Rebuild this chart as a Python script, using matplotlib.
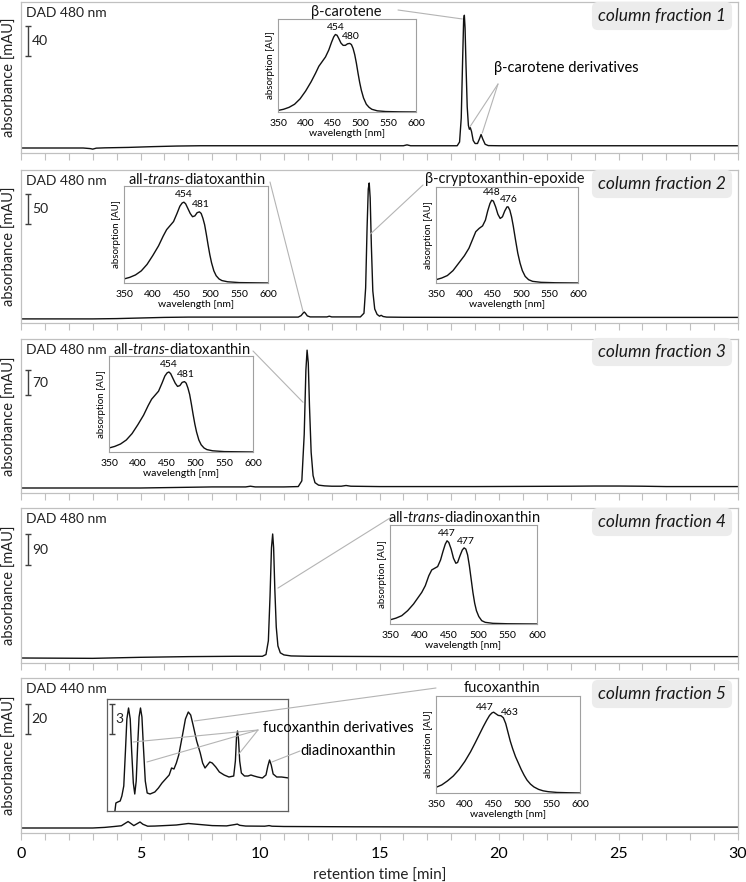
import numpy as np
import matplotlib.pyplot as plt
from matplotlib.ticker import MultipleLocator

plt.rcParams['font.family'] = ['Lato', 'DejaVu Sans']
plt.rcParams['mathtext.fontset'] = 'custom'
plt.rcParams['mathtext.rm'] = 'Lato'
plt.rcParams['mathtext.it'] = 'Lato:italic'

# ---- chromatograms: retention time [min] vs absorbance [mAU] (baseline = 0)
t1 = [0, 2.6, 2.9, 3.0, 3.15, 3.5, 4.5, 5.5, 6.5, 7.5, 10, 14, 16.0, 16.15, 16.3,
      18.25, 18.35, 18.42, 18.48, 18.52, 18.55, 18.58, 18.62, 18.67, 18.72, 18.76,
      18.80, 18.85, 18.92, 19.0, 19.1, 19.18, 19.25, 19.32, 19.42, 19.55, 20, 25, 30]
a1 = [0, 0, -0.8, -1.5, -0.2, 0.2, 0.8, 1.8, 2.6, 3.0, 3.0, 3.0, 3.0, 4.2, 3.0,
      3.0, 8, 40, 120, 170, 177, 160, 110, 55, 30, 25,
      27, 22, 10, 6, 6, 12, 18, 12, 5, 3.2, 3.0, 3.0, 3.0]

t2 = [0, 3, 4, 5, 6, 7, 9, 11.6, 11.72, 11.8, 11.85, 11.9, 11.98, 12.1, 12.8, 12.9,
      13.0, 14.2, 14.35, 14.42, 14.48, 14.53, 14.57, 14.61, 14.66, 14.72, 14.8, 14.9,
      15.0, 15.07, 15.15, 15.3, 16, 20, 25, 30]
a2 = [-1.5, -1.5, -1.0, 0, 1.0, 1.5, 1.5, 1.5, 4, 8, 10, 8, 3.5, 1.8, 1.8, 3,
      1.8, 1.8, 8, 50, 150, 215, 225, 200, 120, 45, 15, 6,
      3, 4.5, 2.5, 1.5, 1.2, 1.0, 1.0, 1.0]

t3 = [0, 5, 7, 8, 9.4, 9.6, 9.8, 11.0, 11.6, 11.75, 11.85, 11.92, 11.97, 12.02,
      12.07, 12.14, 12.22, 12.3, 12.45, 12.7, 13.0, 13.4, 13.6, 13.8, 15, 18, 19,
      23, 24, 25, 26, 27, 30]
a3 = [0, 0, 2, 3, 3, 5, 3, 3, 4, 20, 150, 330, 386, 350,
      230, 100, 35, 15, 8, 6, 5, 5, 7, 5, 4, 4, 4,
      5, 5.5, 5.5, 5, 4, 4]

t4 = [0, 3, 5, 7, 9, 10.1, 10.25, 10.35, 10.42, 10.48, 10.53, 10.57, 10.62, 10.68,
      10.75, 10.85, 11.0, 11.3, 12, 16, 20, 30]
a4 = [0, -1, 2, 4, 5, 5, 10, 50, 180, 320, 360, 320, 200, 90,
      35, 15, 9, 6, 5, 4, 4, 4]

t5 = [0, 3.0, 3.5, 3.9, 4.2, 4.35, 4.48, 4.6, 4.72, 4.85, 4.98, 5.1, 5.3, 5.6, 6.0,
      6.5, 7.0, 7.5, 8.0, 8.6, 8.95, 9.05, 9.15, 9.4, 10.2, 10.38, 10.5, 11, 14, 20, 30]
a5 = [0, 0, 0.4, 1.0, 1.5, 3.0, 4.3, 3.0, 1.6, 2.8, 4.0, 2.5, 1.2, 1.3, 1.6,
      2.0, 3.0, 2.3, 1.6, 1.4, 2.3, 2.6, 1.8, 1.3, 1.2, 1.6, 1.2, 1.0, 0.8, 0.6, 0.6]

# magnified part of fraction 5
t5z = [3.8, 3.93, 3.97, 4.05, 4.15, 4.22, 4.3, 4.37, 4.43, 4.5, 4.57, 4.63, 4.7,
       4.76, 4.82, 4.88, 4.94, 5.0, 5.06, 5.12, 5.2, 5.28, 5.4, 5.5, 5.6, 5.75,
       5.9, 6.05, 6.2, 6.3, 6.4, 6.5, 6.6, 6.75, 6.88, 7.0, 7.1, 7.2, 7.35, 7.5,
       7.6, 7.7, 7.8, 7.9, 8.0, 8.15, 8.3, 8.5, 8.7, 8.9, 8.97, 9.02, 9.06, 9.1,
       9.15, 9.22, 9.35, 9.5, 9.62, 9.75, 9.9, 10.1, 10.25, 10.33, 10.4, 10.47,
       10.55, 10.7, 10.9, 11.2]
a5z = [-1.0, 0.0, 0.8, 0.9, 1.0, 1.5, 2.5, 6.0, 9.2, 10.3, 9.2, 6.0, 2.8,
       1.7, 3.0, 6.5, 9.4, 10.3, 9.4, 6.5, 3.0, 1.8, 1.7, 1.8, 1.9, 2.3,
       2.8, 3.2, 3.6, 4.3, 4.2, 4.8, 5.6, 7.5, 9.2, 9.9, 9.6, 8.6, 7.0, 5.8,
       4.8, 4.3, 4.6, 4.9, 4.8, 4.4, 3.9, 3.6, 3.4, 3.5, 5.0, 7.5, 8.0, 7.2,
       5.0, 3.8, 3.5, 3.5, 3.6, 3.5, 3.4, 3.3, 3.6, 4.5, 5.1, 4.6,
       3.7, 3.4, 3.4, 3.3]

# ---- UV/VIS spectra: wavelength [nm] vs normalised absorption
wl_bcar = [350, 360, 370, 380, 390, 400, 410, 418, 424, 430, 436, 442, 447, 451, 454,
           457, 460, 464, 468, 472, 476, 480, 483, 486, 489, 492, 495, 498, 501, 505,
           510, 515, 520, 530, 545, 570, 600]
ab_bcar = [0.02, 0.035, 0.06, 0.10, 0.17, 0.27, 0.39, 0.50, 0.59, 0.65, 0.71, 0.80,
           0.90, 0.97, 1.0, 0.99, 0.95, 0.89, 0.86, 0.86, 0.88, 0.885, 0.87, 0.82,
           0.74, 0.63, 0.50, 0.38, 0.28, 0.18, 0.10, 0.06, 0.035, 0.015, 0.006,
           0.002, 0.0]

wl_diato = [350, 360, 370, 380, 390, 400, 410, 418, 424, 430, 436, 442, 447, 451, 454,
            457, 461, 465, 469, 473, 477, 481, 484, 487, 490, 493, 496, 499, 502, 506,
            510, 515, 520, 530, 550, 600]
ab_diato = [0.05, 0.07, 0.10, 0.15, 0.23, 0.34, 0.46, 0.58, 0.66, 0.71, 0.76, 0.86,
            0.95, 0.99, 1.0, 0.98, 0.92, 0.86, 0.82, 0.83, 0.87, 0.88, 0.86, 0.80,
            0.72, 0.60, 0.47, 0.35, 0.25, 0.15, 0.09, 0.05, 0.03, 0.015, 0.005, 0.0]

wl_bcry = [350, 360, 370, 380, 390, 400, 408, 414, 420, 426, 432, 437, 441, 445, 448,
           451, 455, 459, 463, 467, 471, 475, 477, 480, 483, 486, 490, 494, 498, 502,
           507, 513, 520, 535, 560, 600]
ab_bcry = [0.04, 0.06, 0.09, 0.15, 0.24, 0.33, 0.42, 0.52, 0.62, 0.66, 0.69, 0.76,
           0.87, 0.96, 1.0, 0.99, 0.92, 0.83, 0.78, 0.80, 0.87, 0.92, 0.92, 0.88,
           0.80, 0.69, 0.52, 0.36, 0.24, 0.15, 0.08, 0.04, 0.02, 0.008, 0.003, 0.0]

wl_diadino = [350, 360, 370, 380, 390, 397, 404, 410, 416, 421, 426, 431, 436, 440, 444,
              447, 450, 454, 458, 462, 465, 469, 473, 476, 479, 482, 485, 488, 491, 494,
              497, 501, 506, 512, 525, 550, 600]
ab_diadino = [0.05, 0.07, 0.10, 0.16, 0.24, 0.31, 0.38, 0.46, 0.58, 0.65, 0.67, 0.69,
              0.77, 0.87, 0.96, 1.0, 0.98, 0.90, 0.79, 0.73, 0.74, 0.82, 0.89, 0.915,
              0.90, 0.83, 0.70, 0.54, 0.38, 0.25, 0.16, 0.09, 0.04, 0.02, 0.008, 0.003, 0.0]

wl_fuco = [350, 360, 370, 380, 390, 400, 410, 418, 425, 432, 438, 443, 447, 450, 454,
           458, 463, 467, 471, 475, 479, 483, 488, 493, 498, 503, 508, 514, 520, 528,
           536, 545, 560, 580, 600]
ab_fuco = [0.07, 0.10, 0.15, 0.21, 0.29, 0.39, 0.51, 0.62, 0.72, 0.82, 0.90, 0.96,
           0.99, 1.0, 0.98, 0.96, 0.955, 0.93, 0.86, 0.75, 0.64, 0.55, 0.45, 0.37,
           0.29, 0.22, 0.16, 0.11, 0.075, 0.045, 0.027, 0.016, 0.007, 0.003, 0.0]

W, H = 746, 882
fig = plt.figure(figsize=(W / 100, H / 100), dpi=100)
GRID = '#c0c0c0'
LEAD = '#b4b4b4'


def rect(x0, y0, x1, y1):
    return [x0 / W, 1 - y1 / H, (x1 - x0) / W, (y1 - y0) / H]


def ftext(x, y, s, **kw):
    fig.text(x / W, 1 - y / H, s, **kw)


def lead(ax, xy, xpx, ypx):
    ax.annotate('', xy=xy, xycoords='data', xytext=(xpx, H - ypx),
                textcoords='figure pixels', annotation_clip=False,
                arrowprops=dict(arrowstyle='-', color=LEAD, lw=0.8,
                                shrinkA=0, shrinkB=0))


# panel layout in pixels: top, axis line, baseline, px per mAU, scale-bar bottom
tops = [2, 170, 339, 508, 678]
axis_y = [153, 323, 493, 663, 833]
base_y = [148, 318, 488, 658, 828]
ppm = [30 / 40, 30 / 50, 25 / 70, 31 / 90, 30 / 20]
bar_bottom = [56, 224, 395, 565, 734]
bar_size = [40, 50, 70, 90, 20]
dad = ['DAD 480 nm', 'DAD 480 nm', 'DAD 480 nm', 'DAD 480 nm', 'DAD 440 nm']
traces = [(t1, a1), (t2, a2), (t3, a3), (t4, a4), (t5, a5)]
frac_y = [16, 184, 352, 522, 694]

axes = []
for i in range(5):
    ax = fig.add_axes(rect(21, tops[i], 738, axis_y[i]))
    t, a = traces[i]
    ax.plot(t, a, color='#111111', lw=1.0)
    ax.set_xlim(0, 30)
    ax.set_ylim(-(axis_y[i] - base_y[i]) / ppm[i], (base_y[i] - tops[i]) / ppm[i])
    for s in ax.spines.values():
        s.set_color(GRID)
        s.set_linewidth(0.9)
    ax.set_yticks([])
    ax.xaxis.set_major_locator(MultipleLocator(5))
    ax.xaxis.set_minor_locator(MultipleLocator(1))
    ax.tick_params(axis='x', which='both', direction='out', length=5,
                   color=GRID, width=0.8, labelsize=11.5, pad=5)
    if i < 4:
        ax.tick_params(axis='x', labelbottom=False)
    # scale bar
    lo = (base_y[i] - bar_bottom[i]) / ppm[i]
    ax.errorbar(0.3, lo + bar_size[i] / 2, yerr=bar_size[i] / 2, color='#404040',
                lw=1, capsize=2.5, capthick=1)
    ax.text(0.45, lo + bar_size[i] / 2, str(bar_size[i]), ha='left', va='center',
            fontsize=10, color='#222222')
    ftext(26, tops[i] + 11, dad[i], ha='left', va='center', fontsize=10, color='#222222')
    ftext(10, (tops[i] + axis_y[i]) / 2, 'absorbance [mAU]', rotation=90,
          ha='center', va='center', fontsize=10.5, color='#222222')
    ftext(726, frac_y[i], 'column fraction %d' % (i + 1), ha='right', va='center',
          fontsize=12.5, style='italic', color='#1a1a1a',
          bbox=dict(boxstyle='round,pad=0.35', fc='#ececec', ec='none'))
    axes.append(ax)

axes[4].set_xlabel('retention time [min]', fontsize=11, labelpad=6, color='#222222')


def spectrum(box, wl, ab, ymax, title, tpos, peaks):
    sa = fig.add_axes(rect(*box))
    sa.plot(wl, ab, color='#111111', lw=1.0)
    sa.set_xlim(350, 600)
    sa.set_ylim(0, ymax)
    sa.set_yticks([])
    sa.set_xticks(range(350, 601, 50))
    sa.tick_params(axis='x', length=0, labelsize=7.5, pad=5)
    for s in sa.spines.values():
        s.set_color('#a0a0a0')
        s.set_linewidth(0.8)
    sa.set_xlabel('wavelength [nm]', fontsize=7.5, labelpad=1)
    sa.set_ylabel('absorption [AU]', fontsize=7, labelpad=2)
    for p, dx, dy in peaks:
        sa.annotate(str(p), xy=(p, np.interp(p, wl, ab)), xytext=(dx, dy),
                    textcoords='offset points', ha='center', va='bottom', fontsize=7.5)
    ftext(tpos[0], tpos[1], title, ha='center', va='center', fontsize=10.5,
          color='#111111')
    return sa


spectrum((278, 19, 416, 112), wl_bcar, ab_bcar, 1.2, 'β-carotene', (346, 12),
         [(454, 0, 2), (480, 1, 2)])
spectrum((124, 186, 268, 283), wl_diato, ab_diato, 1.2,
         'all-$\\it{trans}$-diatoxanthin', (197, 179), [(454, 0, 2), (481, 1, 2)])
spectrum((436, 187, 578, 283), wl_bcry, ab_bcry, 1.16,
         'β-cryptoxanthin-epoxide', (505, 179), [(448, 0, 2), (476, 1, 2)])
spectrum((109, 356, 253, 452), wl_diato, ab_diato, 1.2,
         'all-$\\it{trans}$-diatoxanthin', (182, 350), [(454, 0, 2), (481, 1, 2)])
spectrum((390, 525, 537, 624), wl_diadino, ab_diadino, 1.19,
         'all-$\\it{trans}$-diadinoxanthin', (464, 518), [(447, 0, 2), (477, 1, 2)])
spectrum((436, 696, 580, 793), wl_fuco, ab_fuco, 1.2, 'fucoxanthin', (502, 688),
         [(447, -5, 1), (463, 6, -1)])

# magnified chromatogram of fraction 5
zx0, zx1 = 107, 288
za = fig.add_axes(rect(zx0, 699, zx1, 811))
za.plot(t5z, a5z, color='#111111', lw=1.0)
za.set_xlim((zx0 - 21) / 717 * 30, (zx1 - 21) / 717 * 30)
za.set_ylim(0, 11.2)
za.set_xticks([])
za.set_yticks([])
for s in za.spines.values():
    s.set_color('#606060')
    s.set_linewidth(0.9)
za.errorbar(3.82, 9.2, yerr=1.5, color='#404040', lw=1, capsize=2.5, capthick=1)
za.text(3.95, 9.2, '3', ha='left', va='center', fontsize=10, color='#222222')

# labels and leader lines
lead(axes[0], (18.47, 172), 398, 10)
ftext(566, 68, 'β-carotene derivatives', ha='center', va='center', fontsize=10.5)
lead(axes[0], (18.8, 29), 498, 84)
lead(axes[0], (19.3, 20), 498, 84)
lead(axes[1], (11.8, 11), 270, 182)
lead(axes[1], (14.62, 140), 423, 185)
lead(axes[2], (11.8, 240), 253, 351)
lead(axes[3], (10.75, 203), 390, 518)
lead(za, (7.25, 9.0), 436, 688)
ftext(338, 728, 'fucoxanthin derivatives', ha='center', va='center', fontsize=10.5)
lead(za, (4.69, 6.9), 258, 730)
lead(za, (5.27, 4.9), 258, 730)
lead(za, (9.08, 5.6), 258, 730)
ftext(348, 751, 'diadinoxanthin', ha='center', va='center', fontsize=10.5)
lead(za, (10.5, 4.9), 300, 751)

fig.savefig('out.png', dpi=100)
